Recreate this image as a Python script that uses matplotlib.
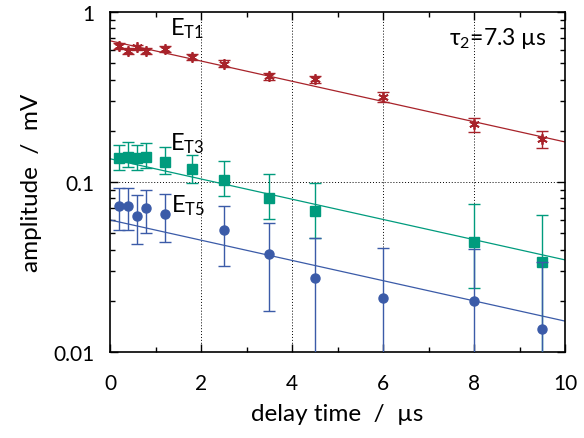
import numpy as np
import matplotlib
matplotlib.use("Agg")
import matplotlib.pyplot as plt
from matplotlib.ticker import LogLocator, NullFormatter, MultipleLocator

plt.rcParams['font.family'] = ['Lato', 'DejaVu Sans']
plt.rcParams['mathtext.default'] = 'regular'

# E_T1 (red asterisks)
t1 = [0.2, 0.4, 0.6, 0.8, 1.2, 1.8, 2.5, 3.5, 4.5, 6.0, 8.0, 9.5]
a1 = [0.634, 0.59, 0.62, 0.59, 0.605, 0.544, 0.497, 0.42, 0.403, 0.316, 0.219, 0.179]
e1_lo = [0.025, 0.022, 0.022, 0.022, 0.022, 0.022, 0.022, 0.02, 0.02, 0.02, 0.022, 0.02]
e1_hi = [0.025, 0.022, 0.022, 0.022, 0.022, 0.022, 0.022, 0.02, 0.02, 0.022, 0.019, 0.02]

# E_T3 (teal squares)
t3 = [0.2, 0.4, 0.6, 0.8, 1.2, 1.8, 2.5, 3.5, 4.5, 8.0, 9.5]
a3 = [0.138, 0.140, 0.138, 0.140, 0.131, 0.119, 0.103, 0.0802, 0.0678, 0.0442, 0.034]
a3_lo = [0.117, 0.122, 0.117, 0.121, 0.111, 0.098, 0.083, 0.0603, 0.047, 0.0239, 0.005]
a3_hi = [0.166, 0.171, 0.166, 0.170, 0.161, 0.145, 0.133, 0.111, 0.0984, 0.0741, 0.064]

# E_T5 (blue circles)
t5 = [0.2, 0.4, 0.6, 0.8, 1.2, 2.5, 3.5, 4.5, 6.0, 8.0, 9.5]
a5 = [0.0726, 0.0726, 0.0633, 0.0703, 0.0648, 0.0524, 0.0376, 0.0272, 0.0207, 0.020, 0.0137]
a5_lo = [0.052, 0.052, 0.0433, 0.050, 0.0446, 0.0322, 0.0175, 0.001, 0.001, 0.001, 0.001]
a5_hi = [0.0918, 0.0918, 0.0838, 0.0901, 0.0847, 0.072, 0.0571, 0.047, 0.0408, 0.0403, 0.034]

# fit: A exp(-t/tau2)
tau2 = 7.3
amp_fit = [0.677, 0.137, 0.0598]

red = '#a8232a'
teal = '#009b7d'
blue = '#3b5ba8'

fig = plt.figure(figsize=(5.84, 4.39), dpi=100)
ax = fig.add_axes([0.1884, 0.1959, 0.7791, 0.7745])

tt = np.linspace(0, 10, 200)
for A, c in zip(amp_fit, [red, teal, blue]):
    ax.plot(tt, A * np.exp(-tt / tau2), color=c, lw=0.9, zorder=2)

a1 = np.array(a1)
ax.errorbar(t1, a1, yerr=[e1_lo, e1_hi], fmt='none', ecolor=red, elinewidth=1.0,
            capsize=4, capthick=1.0, zorder=3)
ax.plot(t1, a1, ls='none', marker=(6, 2, 0), ms=7.5, mew=1.3, color=red, zorder=4)

a3 = np.array(a3)
ax.errorbar(t3, a3, yerr=[a3 - np.array(a3_lo), np.array(a3_hi) - a3], fmt='s', ms=7,
            color=teal, ecolor=teal, elinewidth=1.0, capsize=4, capthick=1.0, zorder=3)

a5 = np.array(a5)
ax.errorbar(t5, a5, yerr=[a5 - np.array(a5_lo), np.array(a5_hi) - a5], fmt='o', ms=6.5,
            color=blue, ecolor=blue, elinewidth=1.0, capsize=4, capthick=1.0, zorder=5)

ax.set_yscale('log')
ax.set_xlim(0, 10)
ax.set_ylim(0.01, 1)

for x in [2, 4, 6, 8]:
    ax.axvline(x, color='black', ls=(0, (1, 2)), lw=0.7, zorder=1)
ax.axhline(0.1, color='black', ls=(0, (1, 2)), lw=0.7, zorder=1)

ax.xaxis.set_major_locator(MultipleLocator(2))
ax.xaxis.set_minor_locator(MultipleLocator(1))
ax.set_yticks([0.01, 0.1, 1])
ax.set_yticklabels(['0.01', '0.1', '1'])
ax.yaxis.set_minor_locator(LogLocator(base=10, subs=np.arange(2, 10)))
ax.yaxis.set_minor_formatter(NullFormatter())
ax.tick_params(which='both', direction='in', top=True, right=True, labelsize=15, width=1.0)
ax.tick_params(which='major', length=6)
ax.tick_params(axis='x', which='major', pad=15)
ax.tick_params(axis='y', which='major', pad=11)
ax.tick_params(which='minor', length=3.5)
for s in ax.spines.values():
    s.set_linewidth(1.2)

ax.set_xlabel('delay time  /  µs', fontsize=17.5, labelpad=7)
ax.set_ylabel('amplitude  /  mV', fontsize=17.5, labelpad=8)

ax.text(1.32, 0.74, 'E$_{T1}$', fontsize=17)
ax.text(1.32, 0.145, 'E$_{T3}$', fontsize=17, va='bottom')
ax.text(1.34, 0.062, 'E$_{T5}$', fontsize=17, va='bottom')
ax.text(9.6, 0.65, 'τ$_{2}$=7.3 µs', fontsize=16.5, ha='right', va='baseline')

fig.savefig('out.png', dpi=100)
